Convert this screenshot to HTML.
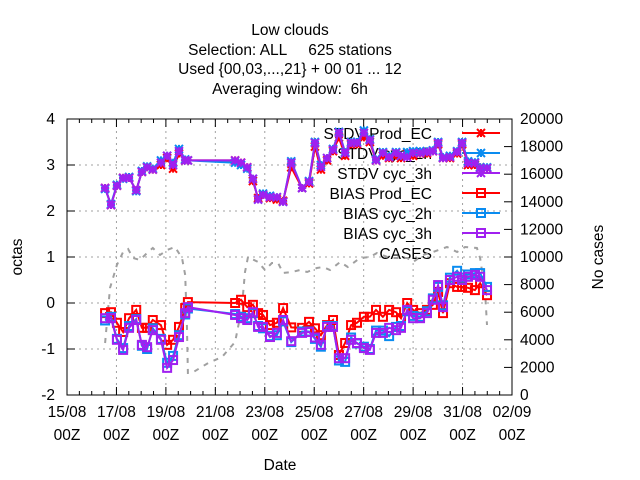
<!DOCTYPE html>
<html><head><meta charset="utf-8">
<style>
html,body{margin:0;padding:0;background:#fff;}
svg{display:block;font-family:"Liberation Sans",sans-serif;}
text{white-space:pre;}
</style></head>
<body>
<svg id="chart" width="640" height="480" viewBox="0 0 640 480" xmlns="http://www.w3.org/2000/svg">
<g font-size="15.5" text-anchor="middle" fill="#000">
<text x="290" y="35">Low clouds</text>
<text x="290" y="55" xml:space="preserve">Selection: ALL     625 stations</text>
<text x="290" y="74">Used {00,03,...,21} + 00 01 ... 12</text>
<text x="290" y="94" xml:space="preserve">Averaging window:  6h</text>
</g>
<g id="grid"></g>
<g id="axes"></g>
<g id="legend"></g>
<g id="series"></g>
<text x="280" y="470" font-size="15.5" text-anchor="middle">Date</text>
<text x="22" y="257" font-size="15.5" text-anchor="middle" transform="rotate(-90 22 257)">octas</text>
<text x="603" y="257" font-size="15.5" text-anchor="middle" transform="rotate(-90 603 257)">No cases</text>
</svg>
<script>
const days = [1.54,1.78,2.02,2.27,2.51,2.80,3.03,3.24,3.47,3.80,4.05,4.29,4.53,4.78,4.89,6.80,7.04,7.29,7.52,7.73,7.93,8.21,8.49,8.74,9.07,9.51,9.79,10.03,10.27,10.52,10.76,11.00,11.25,11.49,11.73,12.01,12.25,12.50,12.78,13.03,13.31,13.51,13.76,14.00,14.28,14.56,14.80,15.01,15.21,15.49,15.78,15.98,16.22,16.50,16.71,16.99];
const stdvProd = [2.5,2.13,2.55,2.72,2.72,2.45,2.85,2.95,2.9,3.0,3.15,2.92,3.25,3.1,3.1,3.1,3.05,2.95,2.65,2.28,2.35,2.28,2.25,2.22,2.95,2.5,2.6,3.4,2.9,3.1,3.3,3.6,3.2,3.45,3.45,3.6,3.5,3.1,3.2,3.15,3.2,3.15,3.25,3.2,3.25,3.25,3.3,3.45,3.15,3.15,3.25,3.45,3.0,3.0,2.95,2.93];
const stdvCyc2 = [2.48,2.15,2.57,2.7,2.74,2.43,2.87,2.97,2.92,3.1,3.2,3.05,3.35,3.12,3.1,3.05,3.0,2.92,2.7,2.25,2.38,2.33,2.3,2.2,3.08,2.5,2.65,3.5,3.0,3.15,3.35,3.72,3.28,3.5,3.5,3.75,3.56,3.12,3.28,3.2,3.28,3.2,3.28,3.3,3.3,3.3,3.32,3.5,3.17,3.2,3.3,3.5,3.08,3.06,2.95,2.95];
const stdvCyc3 = [2.5,2.13,2.55,2.72,2.72,2.45,2.85,2.95,2.9,3.05,3.2,3.0,3.3,3.1,3.1,3.1,3.05,2.95,2.7,2.25,2.35,2.3,2.3,2.2,3.05,2.5,2.63,3.48,2.96,3.15,3.33,3.7,3.26,3.48,3.48,3.7,3.54,3.1,3.26,3.17,3.26,3.2,3.17,3.26,3.26,3.28,3.3,3.48,3.15,3.17,3.28,3.48,3.04,3.04,2.93,2.93];
const biasProd = [-0.22,-0.2,-0.43,-0.63,-0.33,-0.15,-0.54,-0.54,-0.37,-0.48,-0.91,-0.8,-0.52,-0.11,0.02,0,0.07,-0.09,-0.04,-0.22,-0.26,-0.48,-0.43,-0.11,-0.53,-0.54,-0.41,-0.55,-0.7,-0.48,-0.37,-1.13,-0.87,-0.48,-0.43,-0.3,-0.3,-0.15,-0.3,-0.15,-0.2,-0.33,0,-0.15,-0.22,-0.15,-0.04,0.24,-0.22,0.43,0.35,0.35,0.33,0.28,0.43,0.17];
const biasCyc2 = [-0.38,-0.3,-0.78,-0.98,-0.5,-0.35,-0.93,-1.0,-0.55,-0.78,-1.3,-1.15,-0.7,-0.25,-0.12,-0.24,-0.3,-0.33,-0.22,-0.5,-0.55,-0.72,-0.7,-0.4,-0.85,-0.62,-0.62,-0.78,-0.95,-0.5,-0.5,-1.25,-1.28,-0.75,-0.88,-0.95,-1.0,-0.6,-0.6,-0.72,-0.52,-0.5,-0.18,-0.28,-0.3,-0.18,0.1,0.35,-0.05,0.55,0.7,0.55,0.62,0.65,0.65,0.35];
const biasCyc3 = [-0.33,-0.33,-0.8,-1.02,-0.54,-0.37,-0.91,-0.96,-0.59,-0.8,-1.41,-1.24,-0.74,-0.22,-0.09,-0.26,-0.33,-0.37,-0.2,-0.52,-0.52,-0.74,-0.65,-0.37,-0.83,-0.65,-0.63,-0.75,-0.91,-0.52,-0.52,-1.2,-1.2,-0.8,-0.87,-0.98,-1.02,-0.65,-0.65,-0.54,-0.59,-0.54,-0.15,-0.33,-0.33,-0.22,0.07,0.39,-0.09,0.5,0.57,0.5,0.57,0.61,0.57,0.28];
const caseDays = [1.54,1.74,2.02,2.27,2.47,2.67,2.95,3.24,3.47,3.76,4.05,4.37,4.65,4.78,4.85,4.89,5.05,5.71,6.27,6.80,7.07,7.20,7.32,7.73,8.01,8.29,8.54,8.74,9.10,9.43,9.71,10.11,10.36,10.64,11.05,11.36,11.85,12.25,12.54,13.07,13.76,14.00,14.40,14.80,15.37,15.78,16.10,16.58,16.71,16.91,16.99];
const cases = [3768,7754,9420,10362,10580,9928,9783,10290,10652,10145,10507,10725,9928,8696,5072,1594,1594,2319,2754,3841,6304,8913,10000,9638,9058,9565,9565,8841,8913,9058,8913,9203,9275,9058,9638,9275,9928,10000,10290,9928,9928,9638,10145,10362,10725,10362,10725,10652,9928,7464,5072];
const yTicks = [-2,-1,0,1,2,3,4];
const y2Ticks = [0,2000,4000,6000,8000,10000,12000,14000,16000,18000,20000];
const xTickDays = [0,2,4,6,8,10,12,14,16,18];
const xTickLabels = ["15/08","17/08","19/08","21/08","23/08","25/08","27/08","29/08","31/08","02/09"];

const L=67,R=512,T=119,B=395;
const FS=15.5;
const xS=d=>L+d*(R-L)/18;
const yS=v=>T+(4-v)*(B-T)/6;
const y2S=c=>B-c*(B-T)/20000;
const NS="http://www.w3.org/2000/svg";
function mk(tag,attrs,parent){const e=document.createElementNS(NS,tag);for(const k in attrs)e.setAttribute(k,attrs[k]);parent.appendChild(e);return e;}
const grid=document.getElementById('grid'),axes=document.getElementById('axes'),leg=document.getElementById('legend'),ser=document.getElementById('series');

yTicks.forEach(v=>{if(v>-2&&v<4){const g=mk('line',{x1:L,x2:R,y1:yS(v),y2:yS(v),stroke:'#a0a0a0','stroke-dasharray':'2,4','stroke-width':1},grid);

}});
xTickDays.forEach(d=>{if(d>0&&d<18){const g=mk('line',{x1:xS(d),x2:xS(d),y1:T,y2:B,stroke:'#a0a0a0','stroke-dasharray':'2,4','stroke-width':1},grid);

}});
const fr=mk('rect',{x:L,y:T,width:R-L,height:B-T,fill:'none',stroke:'#000','stroke-width':1},axes);


yTicks.forEach(v=>{const y=yS(v);mk('line',{x1:L,x2:L+8,y1:y,y2:y,stroke:'#000'},axes);
const t=mk('text',{x:L-12,y:y+5,'font-size':FS,'text-anchor':'end'},axes);t.textContent=v;

});
y2Ticks.forEach(c=>{const y=y2S(c);mk('line',{x1:R-8,x2:R,y1:y,y2:y,stroke:'#000'},axes);
const t=mk('text',{x:R+8,y:y+5,'font-size':FS,'text-anchor':'start'},axes);t.textContent=c;

});
for(let d=0.5;d<18;d+=0.5){const x=xS(d);const big=(d%2===0);const h=big?8:4;
mk('line',{x1:x,x2:x,y1:B,y2:B-h,stroke:'#000'},axes);mk('line',{x1:x,x2:x,y1:T,y2:T+h,stroke:'#000'},axes);}
xTickDays.forEach((d,i)=>{const x=xS(d);
const t=mk('text',{x:x,y:417,'font-size':FS,'text-anchor':'middle'},axes);t.textContent=xTickLabels[i];


const t2=mk('text',{x:x,y:440,'font-size':FS,'text-anchor':'middle'},axes);t2.textContent="00Z";

});

function star(g,x,y,c){const s=4;mk('path',{d:`M${x-s},${y}H${x+s}M${x},${y-s}V${y+s}M${x-s},${y-s}L${x+s},${y+s}M${x-s},${y+s}L${x+s},${y-s}`,stroke:c,'stroke-width':2,fill:'none'},g);}
function sq(g,x,y,c){mk('rect',{x:x-4,y:y-4,width:8,height:8,fill:'none',stroke:c,'stroke-width':2},g);}

const seriesDefs=[
 {name:'STDV Prod_EC',vals:stdvProd,c:'#ff0000',m:star,id:'stdv-prod-ec'},
 {name:'STDV cyc_2h',vals:stdvCyc2,c:'#0a8cf0',m:star,id:'stdv-cyc-2h'},
 {name:'STDV cyc_3h',vals:stdvCyc3,c:'#a020f0',m:star,id:'stdv-cyc-3h'},
 {name:'BIAS Prod_EC',vals:biasProd,c:'#ff0000',m:sq,id:'bias-prod-ec'},
 {name:'BIAS cyc_2h',vals:biasCyc2,c:'#0a8cf0',m:sq,id:'bias-cyc-2h'},
 {name:'BIAS cyc_3h',vals:biasCyc3,c:'#a020f0',m:sq,id:'bias-cyc-3h'}];

seriesDefs.forEach((s,i)=>{const y=133+i*20;const g=mk('g',{},leg);


const t=mk('text',{x:432,y:y+6,'font-size':FS,'text-anchor':'end'},g);t.textContent=s.name;
mk('line',{x1:462,x2:500,y1:y,y2:y,stroke:s.c,'stroke-width':2},g);s.m(g,481,y,s.c);});
{const y=133+6*20;const g=mk('g',{},leg);


const t=mk('text',{x:432,y:y+6,'font-size':FS,'text-anchor':'end'},g);t.textContent='CASES';}

{const p=caseDays.map((d,i)=>(i?'L':'M')+xS(d).toFixed(1)+','+y2S(cases[i]).toFixed(1)).join('');
const e=mk('path',{d:p,fill:'none',stroke:'#a0a0a0','stroke-width':2,'stroke-dasharray':'5,6'},ser);

}

seriesDefs.forEach(s=>{const g=mk('g',{},ser);


const p=days.map((d,i)=>(i?'L':'M')+xS(d).toFixed(1)+','+yS(s.vals[i]).toFixed(1)).join('');
mk('path',{d:p,fill:'none',stroke:s.c,'stroke-width':2},g);
days.forEach((d,i)=>s.m(g,xS(d),yS(s.vals[i]),s.c));});
</script>
</body></html>
